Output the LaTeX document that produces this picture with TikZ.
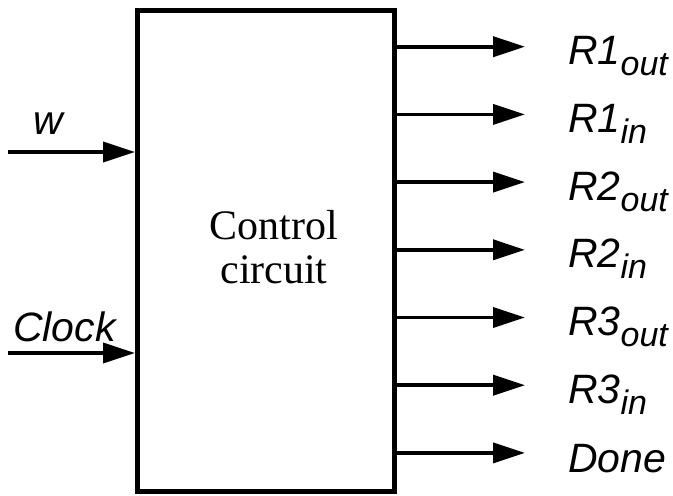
\documentclass[tikz,border=0pt]{standalone}
\usepackage{fontspec}
\setmainfont{Liberation Serif}
\setsansfont{Liberation Sans}
\usetikzlibrary{arrows.meta,positioning}

\begin{document}
\begin{tikzpicture}[
    x=1pt,y=-1pt,
    ctrlbox/.style={draw,line width=5pt,minimum width=257pt,minimum height=481pt,inner sep=0pt},
    sig/.style={line width=3.8pt,-{Triangle[length=32pt,width=20pt]}},
    siglabel/.style={font=\fontsize{41}{48}\selectfont\sffamily\itshape,inner sep=0pt,anchor=base west},
]
    \useasboundingbox (0,0) rectangle (673,496);

    \node[ctrlbox] (ctrl) at (266,250.5) {};
    \node[font=\fontsize{42}{44}\selectfont,align=center,inner sep=0pt] (name) at (274,247) {Control\\circuit};

    % inputs
    \coordinate (wsrc) at (8,152);
    \coordinate (clksrc) at (8,353);
    \node[siglabel] (wlbl) at (33,134) {w};
    \node[siglabel] (clklbl) at (13,341) {Clock};
    \draw[sig] (wsrc) -- (wsrc -| ctrl.west);
    \draw[sig] (clksrc) -- (clksrc -| ctrl.west);

    % outputs
    \foreach \i/\main/\sub/\dy in {0/R1/out/18,1/R1/in/18,2/R2/out/18,3/R2/in/18,4/R3/out/18,5/R3/in/18,6/Done//20} {
        \coordinate (tip\i) at (525,46.7+67.7*\i);
        \node[siglabel] (out\i) at ([xshift=43pt,yshift=-\dy pt]tip\i) {\main\raisebox{-11pt}{\fontsize{34}{40}\selectfont\sub}};
        \draw[sig] (ctrl.east |- tip\i) -- (tip\i);
    }
\end{tikzpicture}
\end{document}
